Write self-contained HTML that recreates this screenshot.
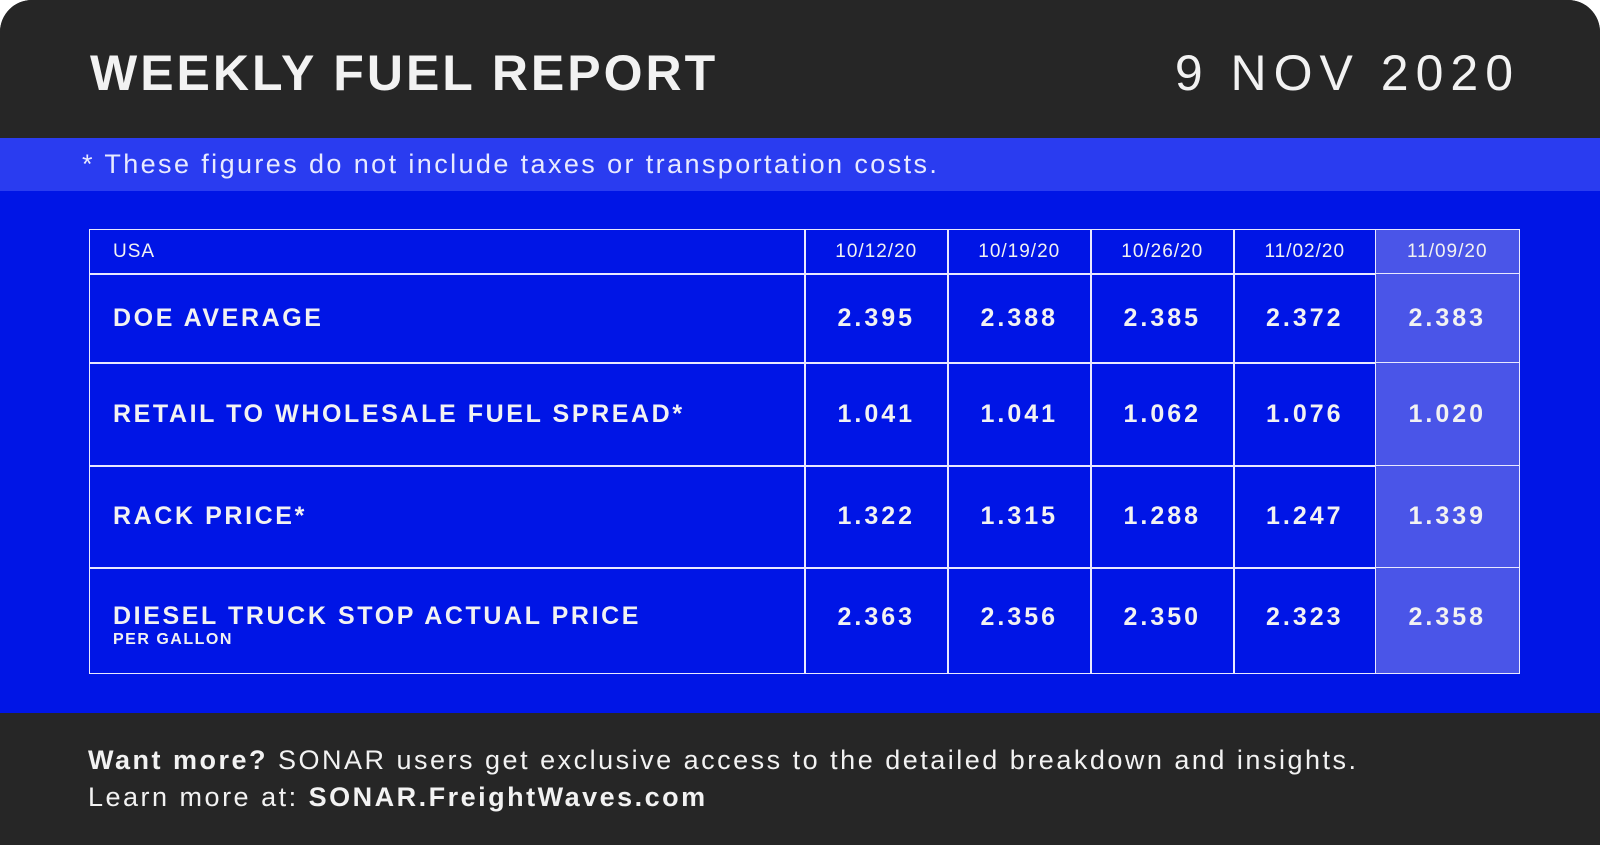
<!DOCTYPE html>
<html><head><meta charset="utf-8"><style>
html,body{margin:0;padding:0;background:#fff;}
body{width:1600px;height:845px;position:relative;overflow:hidden;font-family:"Liberation Sans",sans-serif;color:#f2f2f2;}
#card{position:absolute;left:0;top:0;width:1600px;height:845px;border-radius:32px 32px 0 0;overflow:hidden;background:#262626;}
#hdr{position:absolute;left:0;top:0;width:1600px;height:138px;background:#262626;}
#title{position:absolute;left:90px;top:44px;font-size:50px;font-weight:bold;letter-spacing:3px;}
#date{position:absolute;right:80px;top:44px;font-size:50px;letter-spacing:7px;}
#blue{position:absolute;left:0;top:138px;width:1600px;height:575px;background:#0015e6;}
#note{position:absolute;left:0;top:138px;width:1600px;height:53px;background:#2a3cf0;}
#notetxt{position:absolute;left:82px;top:11px;font-size:27px;letter-spacing:2.4px;color:#e8eaff;}
#tbl{position:absolute;left:89px;top:229px;}
.cell{position:absolute;box-sizing:border-box;border:1.5px solid #e8e8ff;display:flex;align-items:center;}
.num{justify-content:center;font-size:25px;font-weight:bold;letter-spacing:3px;}
.lab{padding-left:23px;font-size:25px;font-weight:bold;letter-spacing:2.6px;}
.hd{justify-content:center;font-size:19px;letter-spacing:1px;}
#footer{position:absolute;left:88px;top:742px;font-size:27px;line-height:37px;letter-spacing:2.5px;color:#f2f2f2;}
</style></head><body>
<div id="card">
 <div id="hdr">
  <div id="title">WEEKLY FUEL REPORT</div>
  <div id="date">9 NOV 2020</div>
 </div>
 <div id="blue"></div>
 <div id="note"><div id="notetxt">* These figures do not include taxes or transportation costs.</div></div>
 <div id="tbl"></div>
 <div id="footer"><b>Want more?</b> SONAR users get exclusive access to the detailed breakdown and insights.<br>Learn more at: <b>SONAR.FreightWaves.com</b></div>
</div>
<script>
const dates=["10/12/20","10/19/20","10/26/20","11/02/20","11/09/20"];
const rowLabels=["DOE AVERAGE","RETAIL TO WHOLESALE FUEL SPREAD*","RACK PRICE*","DIESEL TRUCK STOP ACTUAL PRICE"];
const doeAvg=["2.395","2.388","2.385","2.372","2.383"];
const spread=["1.041","1.041","1.062","1.076","1.020"];
const rack=["1.322","1.315","1.288","1.247","1.339"];
const diesel=["2.363","2.356","2.350","2.323","2.358"];
const rowsData=[doeAvg,spread,rack,diesel];
const tbl=document.getElementById('tbl');
const colX=[0,715,858,1001,1144,1286,1429];
const rowY=[0,44,133,236,338,443];
function cell(x0,x1,y0,y1,cls,txt){
 const d=document.createElement('div');
 d.className='cell '+cls;
 d.style.left=x0+'px';d.style.top=y0+'px';d.style.width=(x1-x0+1.5)+'px';d.style.height=(y1-y0+1.5)+'px';
 d.innerHTML=txt;tbl.appendChild(d);return d;
}
let c=cell(colX[0],colX[1],rowY[0],rowY[1],'hd','');
c.style.justifyContent='flex-start';c.style.paddingLeft='23px';c.textContent='USA';


dates.forEach((d,i)=>{
 const e=cell(colX[i+1],colX[i+2],rowY[0],rowY[1],'hd',d);
 if(i===4)e.style.background='#4a55e8';
 
 
});
rowLabels.forEach((l,r)=>{
 let txt=l;
 if(r===3)txt='<div style="margin-top:10px">'+l+'<div style="font-size:16px;line-height:18px;letter-spacing:1.5px">PER GALLON</div></div>';
 const e=cell(colX[0],colX[1],rowY[r+1],rowY[r+2],'lab',txt);
 
 
 rowsData[r].forEach((v,i)=>{
  const n=cell(colX[i+1],colX[i+2],rowY[r+1],rowY[r+2],'num',v);
  if(r===3)n.style.paddingBottom='6px';
  if(i===4)n.style.background='#4a55e8';
  
  
 });
});
</script>
</body></html>
